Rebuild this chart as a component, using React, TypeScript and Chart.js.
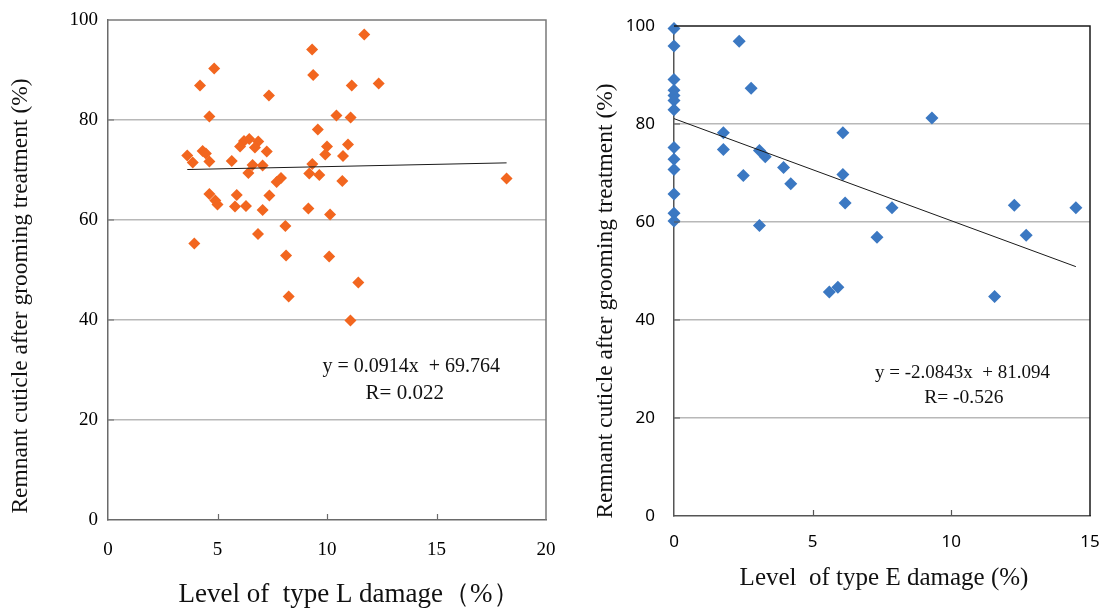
import React, { useEffect, useRef } from "react";
import { Chart, registerables } from "chart.js";

Chart.register(...registerables);

// ---------- Data (left chart: type L damage) ----------
const damageL = [
  11.7, 9.32, 4.85, 9.37, 12.36, 11.13, 4.2, 7.35, 10.43, 4.63, 11.08, 9.58, 6.45, 6.21, 6.86,
  10.96, 6.03, 10.0, 6.71, 4.32, 7.25, 4.47, 9.92, 3.62, 10.73, 4.63, 5.65, 3.87, 9.33, 6.6,
  7.06, 6.41, 9.19, 9.65, 7.9, 7.7, 10.7, 18.2, 4.63, 5.88, 7.37, 4.9, 5.0, 5.8, 6.3,
  9.15, 7.06, 10.14, 8.1, 6.85, 3.94, 8.13, 10.1, 11.43, 8.25, 11.07,
];
const remnantL = [
  97.1, 94.1, 90.3, 89.0, 87.3, 86.9, 86.9, 84.9, 80.9, 80.7, 80.5, 78.1, 76.2, 75.8, 75.7,
  75.1, 74.7, 74.7, 74.5, 73.8, 73.7, 73.3, 73.1, 72.9, 72.8, 71.7, 71.8, 71.5, 71.2, 71.0,
  70.9, 69.4, 69.3, 69.0, 68.4, 67.6, 67.8, 68.3, 65.2, 65.0, 64.9, 63.9, 63.1, 62.7, 62.8,
  62.3, 62.0, 61.1, 58.8, 57.2, 55.3, 52.9, 52.7, 47.5, 44.7, 39.9,
];
const fitL = { slope: 0.0914, intercept: 69.764, r: "0.022" };

// ---------- Data (right chart: type E damage) ----------
const damageE = [
  0, 0, 0, 0, 0, 0, 0, 0, 0, 0, 0, 0, 0,
  2.35, 2.78, 1.78, 1.78, 3.08, 3.29, 3.95, 2.5, 4.21, 6.09, 6.09, 6.17, 9.3,
  3.08, 7.32, 5.6, 5.91, 7.86, 12.27, 12.7, 14.49, 11.56,
];
const remnantE = [
  99.5, 95.9, 89.1, 86.9, 85.8, 84.8, 82.9, 75.2, 72.8, 70.7, 65.7, 61.8, 60.2,
  96.9, 87.3, 78.2, 74.8, 74.6, 73.3, 71.1, 69.5, 67.8, 78.2, 69.7, 63.9, 81.2,
  59.3, 56.9, 45.7, 46.7, 62.9, 63.4, 57.3, 62.9, 44.8,
];
const fitE = { slope: -2.0843, intercept: 81.094, r: "-0.526" };

// ---------- Tick labels ----------
const yTicks = [0, 20, 40, 60, 80, 100];
const xTicksL = [0, 5, 10, 15, 20];
const xTicksE = [0, 5, 10, 15];

const yTitle = "Remnant cuticle after grooming treatment (%)";
const xTitleL = "Level of  type L damage\uFF08%\uFF09";
const xTitleE = "Level  of type E damage (%)";

const SERIF = "'Liberation Serif', 'Times New Roman', serif";
const SANS = "'Noto Sans', 'Open Sans', sans-serif";

type Cfg = {
  xs: number[];
  ys: number[];
  fit: { slope: number; intercept: number; r: string };
  lineFrom: number;
  lineTo: number;
  xMax: number;
  xTicks: number[];
  color: string;
  radius: number;
  tickFont: { family: string; size: number };
  yTickPad: number;
  xTickPad: number;
  padTop: number;
  padRight: number;
  yWidth: number;
  xHeight: number;
  axisColor: string;
  frameColor: string;
  gridColor: string;
  xTitle: string;
  xTitleFont: number;
  xTitlePos: [number, number];
  yTitlePos: [number, number];
  yTitleFont: number;
  eqPos: [number, number];
  rPos: [number, number];
  eqText: string;
  eqFont: number;
  rFont: number;
};

function makeDecor(cfg: Cfg) {
  return {
    id: "decor",
    afterDraw(chart: any) {
      const { ctx, chartArea } = chart;
      const xs = chart.scales.x;
      const ys = chart.scales.y;
      ctx.save();
      // frame top & right
      ctx.strokeStyle = cfg.frameColor;
      ctx.lineWidth = 1.5;
      ctx.beginPath();
      ctx.moveTo(chartArea.left, chartArea.top);
      ctx.lineTo(chartArea.right, chartArea.top);
      ctx.lineTo(chartArea.right, chartArea.bottom);
      ctx.stroke();
      // inside tick marks
      ctx.strokeStyle = cfg.axisColor;
      ctx.lineWidth = 1.2;
      ctx.beginPath();
      cfg.xTicks.forEach((v) => {
        if (v === 0 || v === cfg.xMax) return;
        const px = Math.round(xs.getPixelForValue(v)) + 0.5;
        ctx.moveTo(px, chartArea.bottom);
        ctx.lineTo(px, chartArea.bottom - 6);
      });
      yTicks.forEach((v) => {
        if (v === 0 || v === 100) return;
        const py = ys.getPixelForValue(v);
        ctx.moveTo(chartArea.left, py);
        ctx.lineTo(chartArea.left + 6, py);
      });
      ctx.stroke();
      // titles
      ctx.fillStyle = "#111";
      ctx.textAlign = "center";
      ctx.textBaseline = "middle";
      ctx.font = `${cfg.xTitleFont}px ${SERIF}`;
      ctx.fillText(cfg.xTitle, cfg.xTitlePos[0], cfg.xTitlePos[1]);
      ctx.save();
      ctx.translate(cfg.yTitlePos[0], cfg.yTitlePos[1]);
      ctx.rotate(-Math.PI / 2);
      ctx.font = `${cfg.yTitleFont}px ${SERIF}`;
      ctx.fillText(yTitle, 0, 0);
      ctx.restore();
      // equation
      ctx.font = `${cfg.eqFont}px ${SERIF}`;
      ctx.fillText(cfg.eqText, xs.getPixelForValue(cfg.eqPos[0]), ys.getPixelForValue(cfg.eqPos[1]));
      ctx.font = `${cfg.rFont}px ${SERIF}`;
      ctx.fillText("R= " + cfg.fit.r, xs.getPixelForValue(cfg.rPos[0]), ys.getPixelForValue(cfg.rPos[1]));
      ctx.restore();
    },
  };
}

function ScatterPanel({ cfg, width, left }: { cfg: Cfg; width: number; left: number }) {
  const ref = useRef<HTMLCanvasElement | null>(null);
  useEffect(() => {
    if (!ref.current) return;
    const points = cfg.xs.map((x, i) => ({ x, y: cfg.ys[i] }));
    const line = [cfg.lineFrom, cfg.lineTo].map((x) => ({ x, y: cfg.fit.slope * x + cfg.fit.intercept }));
    const chart = new Chart(ref.current, {
      type: "scatter",
      data: {
        datasets: [
          {
            data: line,
            showLine: true,
            borderColor: "#1a1a1a",
            borderWidth: 1,
            pointRadius: 0,
            clip: false,
          } as any,
          {
            data: points,
            pointStyle: "rectRot",
            pointRadius: cfg.radius,
            backgroundColor: cfg.color,
            borderColor: cfg.color,
            borderWidth: 0,
            clip: false,
          } as any,
        ],
      },
      options: {
        animation: false,
        responsive: false,
        maintainAspectRatio: false,
        layout: { padding: { top: cfg.padTop, right: cfg.padRight, bottom: 0, left: 0 } },
        plugins: { legend: { display: false }, tooltip: { enabled: false } },
        scales: {
          x: {
            type: "linear",
            min: 0,
            max: cfg.xMax,
            afterBuildTicks: (s: any) => {
              s.ticks = cfg.xTicks.map((v) => ({ value: v }));
            },
            afterFit: (s: any) => {
              s.height = cfg.xHeight;
              s.paddingLeft = 0;
              s.paddingRight = 0;
            },
            ticks: {
              color: "#000",
              font: cfg.tickFont,
              padding: cfg.xTickPad,
              maxRotation: 0,
              autoSkip: false,
            },
            grid: { display: false, drawTicks: false },
            border: { display: true, color: cfg.axisColor, width: 1.5 },
          },
          y: {
            type: "linear",
            min: 0,
            max: 100,
            afterBuildTicks: (s: any) => {
              s.ticks = yTicks.map((v) => ({ value: v }));
            },
            afterFit: (s: any) => {
              s.width = cfg.yWidth;
              s.paddingTop = 0;
              s.paddingBottom = 0;
            },
            ticks: {
              color: "#000",
              font: cfg.tickFont,
              padding: cfg.yTickPad,
              autoSkip: false,
            },
            grid: {
              drawTicks: false,
              lineWidth: 1.5,
              color: (c: any) =>
                c.tick && (c.tick.value === 0 || c.tick.value === 100) ? "rgba(0,0,0,0)" : cfg.gridColor,
            },
            border: { display: true, color: cfg.axisColor, width: 1.5 },
          },
        },
      } as any,
      plugins: [makeDecor(cfg)],
    });
    return () => chart.destroy();
  }, [cfg]);
  return (
    <canvas
      ref={ref}
      width={width}
      height={615}
      style={{ position: "absolute", left, top: 0, width, height: 615 }}
    />
  );
}

const cfgL: Cfg = {
  xs: damageL,
  ys: remnantL,
  fit: fitL,
  lineFrom: Math.min(...damageL),
  lineTo: Math.max(...damageL),
  xMax: 20,
  xTicks: xTicksL,
  color: "#f2661f",
  radius: 6,
  tickFont: { family: SERIF, size: 19 },
  yTickPad: 10,
  xTickPad: 19,
  padTop: 20,
  padRight: 14,
  yWidth: 108,
  xHeight: 95,
  axisColor: "#6a6a6a",
  frameColor: "#7a7a7a",
  gridColor: "#b8b8b8",
  xTitle: xTitleL,
  xTitleFont: 27,
  xTitlePos: [349, 595],
  yTitlePos: [21, 296],
  yTitleFont: 23.5,
  eqPos: [13.85, 30.6],
  rPos: [13.55, 25.4],
  eqText: "y = 0.0914x  + 69.764",
  eqFont: 20,
  rFont: 21,
};

const cfgR: Cfg = {
  xs: damageE,
  ys: remnantE,
  fit: fitE,
  lineFrom: 0,
  lineTo: Math.max(...damageE),
  xMax: 15,
  xTicks: xTicksE,
  color: "#3b78c2",
  radius: 6.5,
  tickFont: { family: SANS, size: 17 },
  yTickPad: 19,
  xTickPad: 16,
  padTop: 26,
  padRight: 16,
  yWidth: 114,
  xHeight: 99,
  axisColor: "#555555",
  frameColor: "#1a1a1a",
  gridColor: "#b8b8b8",
  xTitle: xTitleE,
  xTitleFont: 25,
  xTitlePos: [884 - 560, 578],
  yTitlePos: [606 - 560, 301],
  yTitleFont: 23.5,
  eqPos: [10.4, 29.1],
  rPos: [10.45, 24.2],
  eqText: "y = -2.0843x  + 81.094",
  eqFont: 19,
  rFont: 19.5,
};

export default function App() {
  return (
    <div
      style={{
        position: "fixed",
        left: 0,
        top: 0,
        width: 1106,
        height: 615,
        background: "#fff",
        overflow: "hidden",
      }}
    >
      <ScatterPanel cfg={cfgL} width={560} left={0} />
      <ScatterPanel cfg={cfgR} width={546} left={560} />
    </div>
  );
}
